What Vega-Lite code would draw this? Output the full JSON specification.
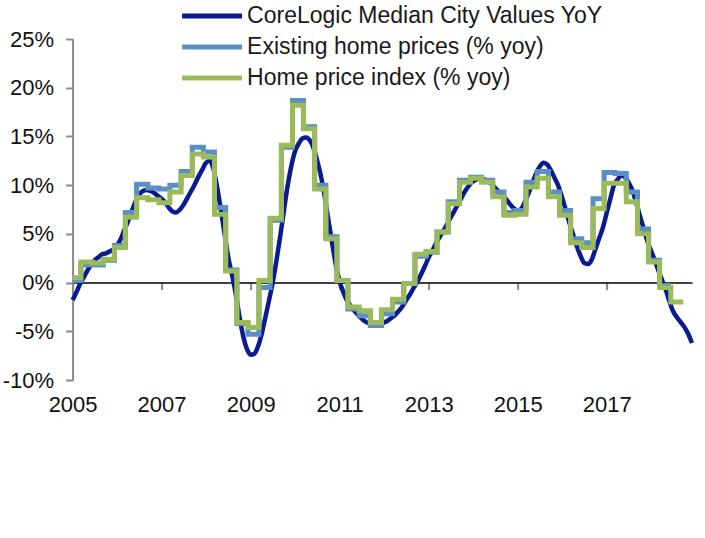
{
  "$schema": "https://vega.github.io/schema/vega-lite/v6.json",
  "autosize": {"type": "none"},
  "padding": {"left": 72.6, "top": 39, "right": 13, "bottom": 158},
  "width": 619.4,
  "height": 341,
  "config": {"view": {"stroke": null}, "font": "Liberation Sans"},
  "datasets": {
    "core": [
      {"date":"2005-01-01","value":-1.8},{"date":"2005-02-01","value":-1.0},{"date":"2005-03-01","value":-0.2},{"date":"2005-04-01","value":0.5},{"date":"2005-05-01","value":1.2},{"date":"2005-06-01","value":1.8},{"date":"2005-07-01","value":2.3},{"date":"2005-08-01","value":2.6},{"date":"2005-09-01","value":2.9},{"date":"2005-10-01","value":3.0},{"date":"2005-11-01","value":3.2},{"date":"2005-12-01","value":3.4},
      {"date":"2006-01-01","value":3.8},{"date":"2006-02-01","value":4.5},{"date":"2006-03-01","value":5.4},{"date":"2006-04-01","value":6.3},{"date":"2006-05-01","value":7.3},{"date":"2006-06-01","value":8.3},{"date":"2006-07-01","value":9.0},{"date":"2006-08-01","value":9.4},{"date":"2006-09-01","value":9.5},{"date":"2006-10-01","value":9.4},{"date":"2006-11-01","value":9.2},{"date":"2006-12-01","value":8.9},
      {"date":"2007-01-01","value":8.6},{"date":"2007-02-01","value":8.2},{"date":"2007-03-01","value":7.7},{"date":"2007-04-01","value":7.3},{"date":"2007-05-01","value":7.2},{"date":"2007-06-01","value":7.5},{"date":"2007-07-01","value":8.0},{"date":"2007-08-01","value":8.7},{"date":"2007-09-01","value":9.4},{"date":"2007-10-01","value":10.1},{"date":"2007-11-01","value":10.9},{"date":"2007-12-01","value":11.6},
      {"date":"2008-01-01","value":12.3},{"date":"2008-02-01","value":12.5},{"date":"2008-03-01","value":11.7},{"date":"2008-04-01","value":9.8},{"date":"2008-05-01","value":7.5},{"date":"2008-06-01","value":5.0},{"date":"2008-07-01","value":2.6},{"date":"2008-08-01","value":0.8},{"date":"2008-09-01","value":-1.2},{"date":"2008-10-01","value":-3.5},{"date":"2008-11-01","value":-5.5},{"date":"2008-12-01","value":-6.8},
      {"date":"2009-01-01","value":-7.4},{"date":"2009-02-01","value":-7.3},{"date":"2009-03-01","value":-6.6},{"date":"2009-04-01","value":-5.3},{"date":"2009-05-01","value":-3.6},{"date":"2009-06-01","value":-1.8},{"date":"2009-07-01","value":0.0},{"date":"2009-08-01","value":2.3},{"date":"2009-09-01","value":4.8},{"date":"2009-10-01","value":7.4},{"date":"2009-11-01","value":10.0},{"date":"2009-12-01","value":12.0},
      {"date":"2010-01-01","value":13.5},{"date":"2010-02-01","value":14.3},{"date":"2010-03-01","value":14.8},{"date":"2010-04-01","value":14.9},{"date":"2010-05-01","value":14.6},{"date":"2010-06-01","value":13.8},{"date":"2010-07-01","value":12.5},{"date":"2010-08-01","value":10.9},{"date":"2010-09-01","value":8.8},{"date":"2010-10-01","value":6.4},{"date":"2010-11-01","value":4.0},{"date":"2010-12-01","value":1.8},
      {"date":"2011-01-01","value":0.1},{"date":"2011-02-01","value":-1.0},{"date":"2011-03-01","value":-1.8},{"date":"2011-04-01","value":-2.4},{"date":"2011-05-01","value":-2.9},{"date":"2011-06-01","value":-3.3},{"date":"2011-07-01","value":-3.7},{"date":"2011-08-01","value":-4.0},{"date":"2011-09-01","value":-4.2},{"date":"2011-10-01","value":-4.4},{"date":"2011-11-01","value":-4.4},{"date":"2011-12-01","value":-4.3},
      {"date":"2012-01-01","value":-4.1},{"date":"2012-02-01","value":-3.9},{"date":"2012-03-01","value":-3.6},{"date":"2012-04-01","value":-3.3},{"date":"2012-05-01","value":-2.9},{"date":"2012-06-01","value":-2.4},{"date":"2012-07-01","value":-1.8},{"date":"2012-08-01","value":-1.2},{"date":"2012-09-01","value":-0.5},{"date":"2012-10-01","value":0.1},{"date":"2012-11-01","value":0.9},{"date":"2012-12-01","value":1.7},
      {"date":"2013-01-01","value":2.6},{"date":"2013-02-01","value":3.3},{"date":"2013-03-01","value":4.0},{"date":"2013-04-01","value":4.7},{"date":"2013-05-01","value":5.3},{"date":"2013-06-01","value":6.0},{"date":"2013-07-01","value":6.7},{"date":"2013-08-01","value":7.4},{"date":"2013-09-01","value":8.1},{"date":"2013-10-01","value":8.8},{"date":"2013-11-01","value":9.5},{"date":"2013-12-01","value":10.0},
      {"date":"2014-01-01","value":10.4},{"date":"2014-02-01","value":10.6},{"date":"2014-03-01","value":10.7},{"date":"2014-04-01","value":10.6},{"date":"2014-05-01","value":10.4},{"date":"2014-06-01","value":10.1},{"date":"2014-07-01","value":9.7},{"date":"2014-08-01","value":9.3},{"date":"2014-09-01","value":8.9},{"date":"2014-10-01","value":8.5},{"date":"2014-11-01","value":8.0},{"date":"2014-12-01","value":7.6},
      {"date":"2015-01-01","value":7.4},{"date":"2015-02-01","value":7.6},{"date":"2015-03-01","value":8.3},{"date":"2015-04-01","value":9.2},{"date":"2015-05-01","value":10.2},{"date":"2015-06-01","value":11.2},{"date":"2015-07-01","value":11.9},{"date":"2015-08-01","value":12.3},{"date":"2015-09-01","value":12.1},{"date":"2015-10-01","value":11.5},{"date":"2015-11-01","value":10.7},{"date":"2015-12-01","value":9.9},
      {"date":"2016-01-01","value":8.7},{"date":"2016-02-01","value":7.4},{"date":"2016-03-01","value":6.1},{"date":"2016-04-01","value":4.9},{"date":"2016-05-01","value":3.7},{"date":"2016-06-01","value":2.7},{"date":"2016-07-01","value":2.0},{"date":"2016-08-01","value":1.9},{"date":"2016-09-01","value":2.4},{"date":"2016-10-01","value":3.5},{"date":"2016-11-01","value":4.6},{"date":"2016-12-01","value":5.7},
      {"date":"2017-01-01","value":7.2},{"date":"2017-02-01","value":8.7},{"date":"2017-03-01","value":10.0},{"date":"2017-04-01","value":10.6},{"date":"2017-05-01","value":11.0},{"date":"2017-06-01","value":10.8},{"date":"2017-07-01","value":10.2},{"date":"2017-08-01","value":9.4},{"date":"2017-09-01","value":8.1},{"date":"2017-10-01","value":6.8},{"date":"2017-11-01","value":5.5},{"date":"2017-12-01","value":4.2},
      {"date":"2018-01-01","value":3.2},{"date":"2018-02-01","value":2.2},{"date":"2018-03-01","value":1.2},{"date":"2018-04-01","value":0.2},{"date":"2018-05-01","value":-0.8},{"date":"2018-06-01","value":-2.0},{"date":"2018-07-01","value":-3.0},{"date":"2018-08-01","value":-3.6},{"date":"2018-09-01","value":-4.1},{"date":"2018-10-01","value":-4.6},{"date":"2018-11-01","value":-5.3},{"date":"2018-12-01","value":-6.2}
    ],
    "existing": [
      {"date":"2005-01-01","value":0.2},{"date":"2005-03-10","value":1.8},{"date":"2005-06-10","value":1.8},{"date":"2005-09-10","value":2.3},{"date":"2005-12-10","value":3.8},
      {"date":"2006-03-10","value":7.2},{"date":"2006-06-10","value":10.1},{"date":"2006-09-10","value":9.7},{"date":"2006-12-10","value":9.6},
      {"date":"2007-03-10","value":10.0},{"date":"2007-06-10","value":11.4},{"date":"2007-09-10","value":13.9},{"date":"2007-12-10","value":13.4},
      {"date":"2008-03-10","value":7.7},{"date":"2008-06-10","value":1.3},{"date":"2008-09-10","value":-4.2},{"date":"2008-12-10","value":-5.3},
      {"date":"2009-03-10","value":-0.5},{"date":"2009-06-10","value":6.4},{"date":"2009-09-10","value":13.9},{"date":"2009-12-10","value":18.7},
      {"date":"2010-03-10","value":16.0},{"date":"2010-06-10","value":10.0},{"date":"2010-09-10","value":4.7},{"date":"2010-12-10","value":0.2},
      {"date":"2011-03-10","value":-2.7},{"date":"2011-06-10","value":-3.4},{"date":"2011-09-10","value":-4.4},{"date":"2011-12-10","value":-3.2},
      {"date":"2012-03-10","value":-2.0},{"date":"2012-06-10","value":-0.1},{"date":"2012-09-10","value":2.7},{"date":"2012-12-10","value":3.1},
      {"date":"2013-03-10","value":5.2},{"date":"2013-06-10","value":8.3},{"date":"2013-09-10","value":10.5},{"date":"2013-12-10","value":10.8},
      {"date":"2014-03-10","value":10.5},{"date":"2014-06-10","value":9.3},{"date":"2014-09-10","value":7.2},{"date":"2014-12-10","value":7.4},
      {"date":"2015-03-10","value":10.3},{"date":"2015-06-10","value":11.4},{"date":"2015-09-10","value":9.3},{"date":"2015-12-10","value":7.4},
      {"date":"2016-03-10","value":4.5},{"date":"2016-06-10","value":4.1},{"date":"2016-09-10","value":8.6},{"date":"2016-12-10","value":11.3},
      {"date":"2017-03-10","value":11.2},{"date":"2017-06-10","value":9.3},{"date":"2017-09-10","value":5.5},{"date":"2017-12-10","value":2.3},
      {"date":"2018-03-10","value":-0.3},{"date":"2018-06-10","value":-0.3}
    ],
    "hpi": [
      {"date":"2005-01-01","value":0.5},{"date":"2005-03-10","value":2.1},{"date":"2005-06-10","value":2.0},{"date":"2005-09-10","value":2.4},{"date":"2005-12-10","value":3.6},
      {"date":"2006-03-10","value":6.7},{"date":"2006-06-10","value":8.7},{"date":"2006-09-10","value":8.5},{"date":"2006-12-10","value":8.2},
      {"date":"2007-03-10","value":9.3},{"date":"2007-06-10","value":11.0},{"date":"2007-09-10","value":13.2},{"date":"2007-12-10","value":12.9},
      {"date":"2008-03-10","value":7.0},{"date":"2008-06-10","value":1.2},{"date":"2008-09-10","value":-4.1},{"date":"2008-12-10","value":-4.6},
      {"date":"2009-03-10","value":0.2},{"date":"2009-06-10","value":6.6},{"date":"2009-09-10","value":14.1},{"date":"2009-12-10","value":18.2},
      {"date":"2010-03-10","value":15.8},{"date":"2010-06-10","value":9.6},{"date":"2010-09-10","value":4.5},{"date":"2010-12-10","value":0.2},
      {"date":"2011-03-10","value":-2.5},{"date":"2011-06-10","value":-2.9},{"date":"2011-09-10","value":-4.1},{"date":"2011-12-10","value":-2.8},
      {"date":"2012-03-10","value":-1.7},{"date":"2012-06-10","value":-0.1},{"date":"2012-09-10","value":2.9},{"date":"2012-12-10","value":3.2},
      {"date":"2013-03-10","value":5.2},{"date":"2013-06-10","value":8.1},{"date":"2013-09-10","value":10.3},{"date":"2013-12-10","value":10.7},
      {"date":"2014-03-10","value":10.3},{"date":"2014-06-10","value":8.8},{"date":"2014-09-10","value":6.9},{"date":"2014-12-10","value":7.0},
      {"date":"2015-03-10","value":9.8},{"date":"2015-06-10","value":10.7},{"date":"2015-09-10","value":8.8},{"date":"2015-12-10","value":6.9},
      {"date":"2016-03-10","value":4.1},{"date":"2016-06-10","value":3.6},{"date":"2016-09-10","value":7.6},{"date":"2016-12-10","value":10.2},
      {"date":"2017-03-10","value":10.2},{"date":"2017-06-10","value":8.3},{"date":"2017-09-10","value":5.0},{"date":"2017-12-10","value":2.1},
      {"date":"2018-03-10","value":-0.5},{"date":"2018-06-10","value":-2.0},{"date":"2018-09-20","value":-2.0}
    ]
  },
  "encoding": {
    "x": {
      "field": "date", "type": "temporal",
      "scale": {"domain": [{"year": 2005, "month": 1, "date": 1, "utc": true}, {"year": 2018, "month": 12, "date": 1, "utc": true}]},
      "axis": {
        "values": [{"year": 2005, "utc": true}, {"year": 2007, "utc": true}, {"year": 2009, "utc": true}, {"year": 2011, "utc": true}, {"year": 2013, "utc": true}, {"year": 2015, "utc": true}, {"year": 2017, "utc": true}],
        "format": "%Y", "formatType": "utc",
        "title": null, "grid": false, "offset": -97.43,
        "domainColor": "#000000", "domainWidth": 1.5,
        "tickColor": "#888888", "tickWidth": 2, "tickSize": 7,
        "labelPadding": 105, "labelFontSize": 22, "labelColor": "#111111", "labelFlush": false, "labelFont": "Liberation Sans"
      }
    },
    "y": {
      "field": "value", "type": "quantitative",
      "scale": {"domain": [-10, 25], "nice": false, "zero": false},
      "axis": {
        "values": [-10, -5, 0, 5, 10, 15, 20, 25],
        "labelExpr": "datum.value + '%'",
        "title": null, "grid": false,
        "domainColor": "#888888", "domainWidth": 2,
        "tickColor": "#888888", "tickWidth": 2, "tickSize": 7,
        "labelPadding": 12, "labelFontSize": 22, "labelColor": "#111111", "labelFont": "Liberation Sans"
      }
    },
    "color": {
      "field": "series", "type": "nominal",
      "scale": {
        "domain": ["CoreLogic Median City Values YoY", "Existing home prices (% yoy)", "Home price index (% yoy)"],
        "range": ["#0a1a8f", "#5b8fc4", "#9bbb59"]
      },
      "legend": {
        "title": null, "orient": "none", "legendX": 127, "legendY": -35.5,
        "symbolType": "M-3,0H3", "symbolSize": 400, "symbolStrokeWidth": 5,
        "labelFontSize": 23, "labelColor": "#1a1a1a", "labelFont": "Liberation Sans",
        "labelOffset": 22.5, "labelLimit": 600, "rowPadding": 6
      }
    }
  },
  "layer": [
    {
      "data": {"name": "core"},
      "mark": {"type": "line", "interpolate": "monotone", "strokeWidth": 4.5},
      "encoding": {"color": {"datum": "CoreLogic Median City Values YoY", "type": "nominal"}}
    },
    {
      "data": {"name": "existing"},
      "mark": {"type": "line", "interpolate": "step-after", "strokeWidth": 5},
      "encoding": {"color": {"datum": "Existing home prices (% yoy)", "type": "nominal"}}
    },
    {
      "data": {"name": "hpi"},
      "mark": {"type": "line", "interpolate": "step-after", "strokeWidth": 5},
      "encoding": {"color": {"datum": "Home price index (% yoy)", "type": "nominal"}}
    }
  ]
}
